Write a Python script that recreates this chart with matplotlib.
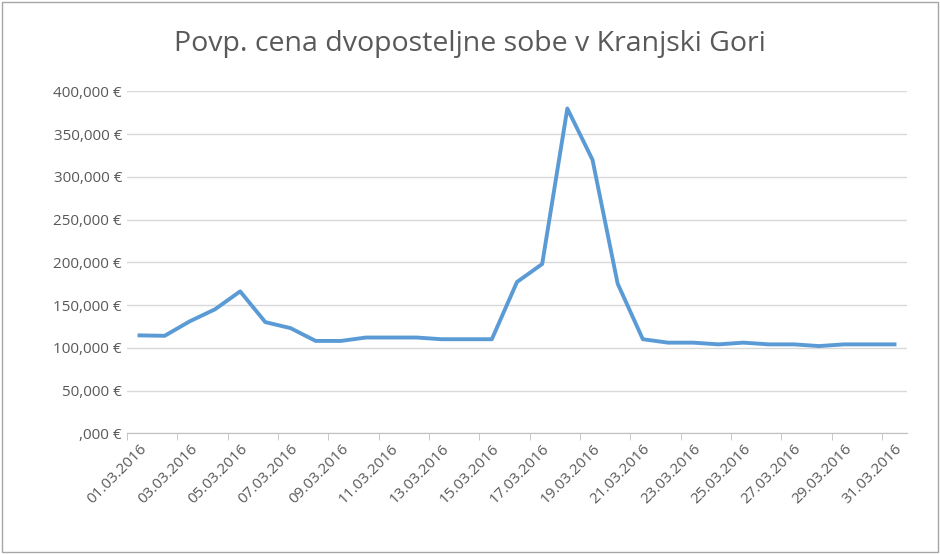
import matplotlib
matplotlib.use("Agg")
import matplotlib.pyplot as plt
from matplotlib.ticker import FuncFormatter

dates = [f"{d:02d}.03.2016" for d in range(1, 32)]
prices = [114500, 114000, 131000, 145000, 166000, 130000, 123000, 108000, 108000,
          112000, 112000, 112000, 110000, 110000, 110000, 177000, 198000, 380000,
          320000, 175000, 110000, 106000, 106000, 104000, 106000, 104000, 104000,
          102000, 104000, 104000, 104000]
yticks = list(range(0, 400001, 50000))

plt.rcParams['font.family'] = ['Open Sans', 'DejaVu Sans']
fig = plt.figure(figsize=(9.4, 5.54), dpi=100)
ax = fig.add_axes([0.135, 0.218, 0.83, 0.617])
x = list(range(len(dates)))
ax.plot(x, prices, color='#5B9BD5', lw=2.8, solid_joinstyle='round')
ax.set_xlim(-0.5, len(dates) - 0.5)
ax.set_ylim(0, 400000)
ax.set_yticks(yticks)
def fmt(v, p):
    s = f"{int(v):,}"
    return (",000" if v == 0 else s) + " €"
ax.yaxis.set_major_formatter(FuncFormatter(fmt))
ax.set_xticks(x[::2])
ax.set_xticklabels(dates[::2], rotation=45, ha='right', rotation_mode='anchor')
ax.set_xticks([i - 0.5 for i in range(0, len(dates) + 1, 2)], minor=True)
ax.tick_params(axis='x', which='major', length=0, labelsize=11, colors='#595959', pad=6)
ax.tick_params(axis='x', which='minor', length=5, color='#bfbfbf')
ax.tick_params(axis='y', length=0, labelsize=11, colors='#595959')
ax.grid(axis='y', color='#d9d9d9', lw=1)
for s in ['top', 'right', 'left']:
    ax.spines[s].set_visible(False)
ax.spines['bottom'].set_color('#bfbfbf')
fig.text(0.5, 0.92, "Povp. cena dvoposteljne sobe v Kranjski Gori", ha='center', va='center',
         fontsize=20.5, color='#595959')
fig.patches.append(plt.Rectangle((0.002, 0.003), 0.996, 0.994, transform=fig.transFigure,
                                 fill=False, ec='#a6a6a6', lw=1))
fig.savefig("out.png", dpi=100)
